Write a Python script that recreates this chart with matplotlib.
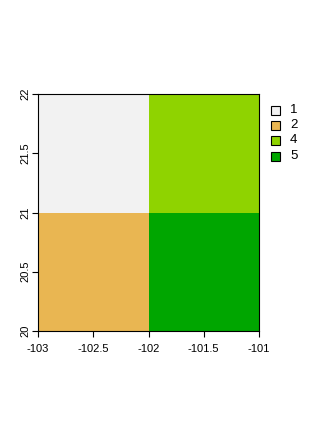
import matplotlib
matplotlib.use("Agg")
import matplotlib.pyplot as plt
from matplotlib.colors import ListedColormap, BoundaryNorm
from matplotlib.patches import Rectangle
import numpy as np

plt.rcParams['font.family'] = ['Liberation Sans', 'DejaVu Sans']

# raster cell edges and values (rows from bottom to top)
x_edges = [-103, -102, -101]
y_edges = [20, 21, 22]
cells = np.array([[2, 5],
                  [1, 4]])

classes = [1, 2, 4, 5]
class_colors = ['#f2f2f2', '#e9b652', '#8fd300', '#00a600']

x_ticks = [-103, -102.5, -102, -101.5, -101]
x_labels = ['-103', '-102.5', '-102', '-101.5', '-101']
y_ticks = [20, 20.5, 21, 21.5, 22]
y_labels = ['20', '20.5', '21', '21.5', '22']

W, H = 336, 426
fig = plt.figure(figsize=(W / 100, H / 100), dpi=100)
ax = fig.add_axes([38 / W, (H - 331) / H, 221 / W, 237 / H])

cmap = ListedColormap(class_colors)
norm = BoundaryNorm([0.5, 1.5, 3, 4.5, 5.5], cmap.N)
ax.pcolormesh(x_edges, y_edges, cells, cmap=cmap, norm=norm)

ax.set_xlim(x_edges[0], x_edges[-1])
ax.set_ylim(y_edges[0], y_edges[-1])
ax.set_xticks(x_ticks)
ax.set_xticklabels(x_labels)
ax.set_yticks(y_ticks)
ax.set_yticklabels(y_labels, rotation=90, va='center')
ax.tick_params(axis='both', length=4, width=0.8, labelsize=8, color='black')
ax.tick_params(axis='x', pad=5)
ax.tick_params(axis='y', pad=1.5)
for s in ax.spines.values():
    s.set_linewidth(0.8)

# legend drawn in figure pixels
row_y = [110, 125, 140, 156]
for cl, col, yy in zip(classes, class_colors, row_y):
    fig.patches.append(Rectangle((270.5 / W, (H - yy - 4.5) / H), 9 / W, 9 / H,
                                 transform=fig.transFigure, facecolor=col,
                                 edgecolor='black', linewidth=0.8))
    fig.text(290 / W, (H - yy) / H, str(cl), fontsize=9.5, va='center', ha='left')

fig.savefig('out.png', dpi=100)
